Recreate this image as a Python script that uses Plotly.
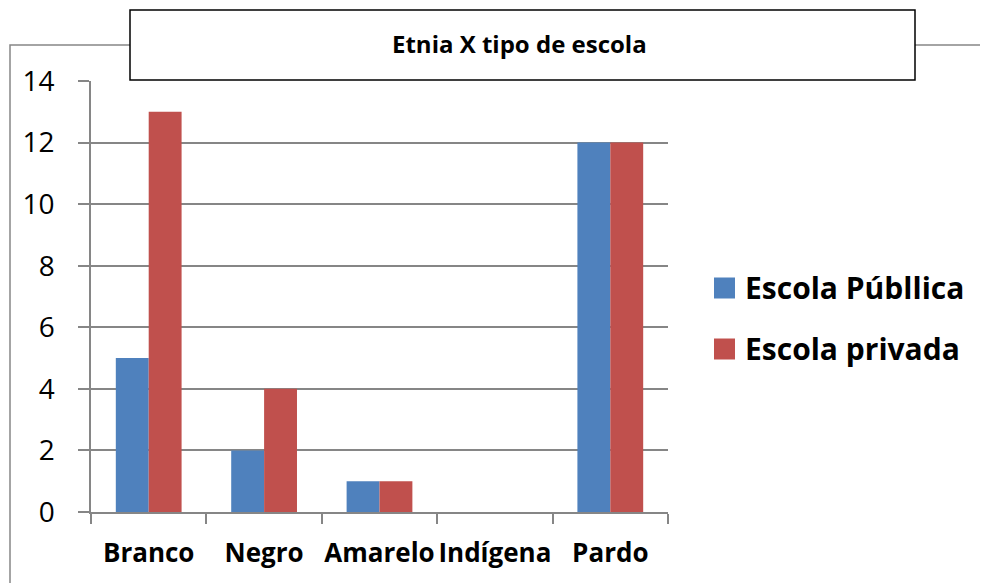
import plotly.graph_objects as go

categories = ["Branco", "Negro", "Amarelo", "Indígena", "Pardo"]
publica = [5, 2, 1, 0, 12]
privada = [13, 4, 1, 0, 12]
series_names = ["Escola Públlica", "Escola privada"]
series_colors = ["#4F81BD", "#C0504D"]
title_text = "Etnia X tipo de escola"

OFF = 8  # page body margin
W, H = 988 - OFF, 583 - OFF
L, T = 91 - OFF, 81 - OFF
R = W - (668 - OFF)
B = H - (512 - OFF)
pw, ph = W - L - R, H - T - B

def px(x):
    return (x - OFF - L) / pw

def py(y):
    return (H - B - (y - OFF)) / ph

FONT = "Open Sans"
fig = go.Figure()
for name, vals, col in zip(series_names, [publica, privada], series_colors):
    fig.add_bar(x=categories, y=vals, name=name, marker=dict(color=col, line=dict(width=0)),
                showlegend=False)

shapes = [
    dict(type="rect", xref="paper", yref="paper", x0=px(10), x1=px(1010), y0=py(45), y1=py(620),
         line=dict(color="#868686", width=1.5), fillcolor="rgba(0,0,0,0)", layer="below"),
    dict(type="rect", xref="paper", yref="paper", x0=px(130), x1=px(915), y0=py(80), y1=py(10),
         line=dict(color="black", width=1.5), fillcolor="white", layer="above"),
]
annotations = [
    dict(text="<b>" + title_text + "</b>", xref="paper", yref="paper", x=px(519), y=py(43),
         xanchor="center", yanchor="middle", showarrow=False, font=dict(size=24, family=FONT)),
]
leg_y = [288, 349]
for name, col, yy in zip(series_names, series_colors, leg_y):
    shapes.append(dict(type="rect", xref="paper", yref="paper", x0=px(714), x1=px(735),
                       y0=py(yy + 10.5), y1=py(yy - 10.5), line=dict(width=0), fillcolor=col))
    annotations.append(dict(text="<b>" + name + "</b>", xref="paper", yref="paper", x=px(743), y=py(yy - 1),
                            xanchor="left", yanchor="middle", showarrow=False,
                            font=dict(size=30, family=FONT)))

fig.update_layout(
    width=W, height=H,
    margin=dict(l=L, r=R, t=T, b=B, autoexpand=False),
    paper_bgcolor="white", plot_bgcolor="white",
    barmode="group", bargap=0.43, bargroupgap=0,
    font=dict(family=FONT, color="black"),
    showlegend=False,
    xaxis=dict(showline=True, linecolor="#868686", linewidth=1.5,
               ticks="outside", ticklen=10, tickcolor="#868686", tickwidth=1.5,
               tickson="boundaries", tickfont=dict(size=26, family=FONT, weight="bold"),
               tickangle=0, automargin=False,
               ticklabelstandoff=17, showgrid=False),
    yaxis=dict(range=[0, 14], dtick=2, showline=True, linecolor="#868686", linewidth=1.5,
               ticks="outside", ticklen=11, tickcolor="#868686", tickwidth=1.5,
               showgrid=True, gridcolor="#868686", gridwidth=1.5, automargin=False,
               zeroline=False, tickfont=dict(size=28, family=FONT), ticklabelstandoff=18),
    shapes=shapes,
    annotations=annotations,
)
fig.write_html("out.html")
